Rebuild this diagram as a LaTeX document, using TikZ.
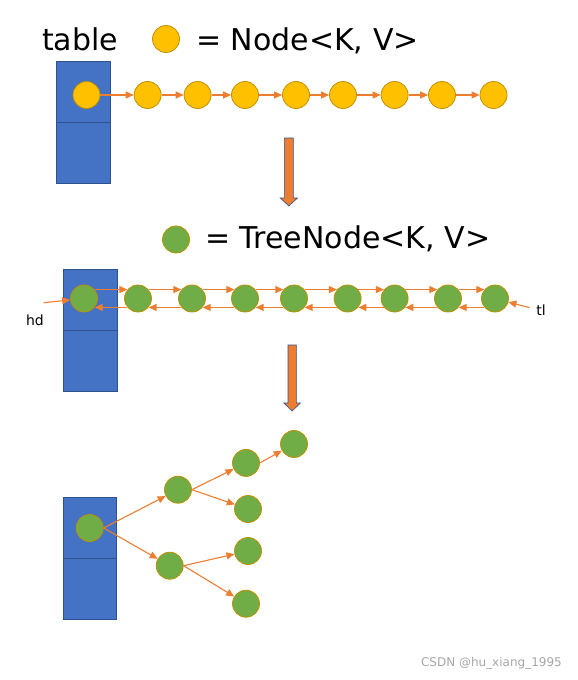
\documentclass[tikz,border=0pt]{standalone}
\usepackage{fontspec}
\setmainfont{DejaVu Sans}
\usetikzlibrary{arrows.meta}
\definecolor{boxblue}{HTML}{4472C4}
\definecolor{boxedge}{HTML}{2F528F}
\definecolor{nodeyellow}{HTML}{FFC000}
\definecolor{nodegreen}{HTML}{70AD47}
\definecolor{nodeedge}{HTML}{BF9000}
\definecolor{linkorange}{HTML}{ED7D31}

\begin{document}
\begin{tikzpicture}[x=1pt,y=-1pt,
		cell/.style={draw=boxedge,fill=boxblue,line width=0.8pt},
		nd/.style={circle,draw=nodeedge,line width=0.8pt,minimum size=27pt,inner sep=0pt},
		hm/.style={nd,fill=nodeyellow},
		tn/.style={nd,fill=nodegreen},
		link/.style={draw=linkorange,line width=1.1pt,-{Triangle[length=8pt,width=7pt]}},
		bigarrow/.style={fill=linkorange,draw=boxedge,line width=0.6pt},
		legend/.style={font=\fontsize{30}{35}\selectfont,inner sep=0pt,anchor=base west},
		small/.style={font=\fontsize{14}{16}\selectfont,inner sep=0pt}]
	\useasboundingbox (0,0) rectangle (578,680);
	% legend + linked list
	\node[legend] (tbl) at (42,50) {table};
	\node[hm] (key1) at (166,39) {};
	\node[legend] (txt1) at (196,50) {= Node<K, V>};
	\draw[cell] (56.7,61) rectangle (110,122);
	\draw[cell] (56.7,122) rectangle (110,183.3);
	\foreach \x [count=\i] in {86.5,147.6,197.6,245,296,343,394.6,442,493.5}
		\node[hm] (y\i) at (\x,95) {};
	\foreach \i [remember=\i as \p (initially 1)] in {2,...,9}
		\draw[link] (y\p) -- (y\i);
	\draw[bigarrow] (284.4,138) -- (293.3,138) -- (293.3,198) -- (297.5,198)
		-- (288.85,206) -- (280.2,198) -- (284.4,198) -- cycle;
	% treeified double list
	\node[tn] (key2) at (176,239.5) {};
	\node[legend] (txt2) at (205,248) {= TreeNode<K, V>};
	\draw[cell] (63.7,269) rectangle (117,330);
	\draw[cell] (63.7,330) rectangle (117,391.7);
	\foreach \x [count=\i] in {84,138,192,245,294,347.6,394.6,448,495}
		\node[tn] (g\i) at (\x,298.5) {};
	\foreach \i [remember=\i as \p (initially 1)] in {2,...,9} {
		\draw[link] (g\p.40) -- (g\i.140);
		\draw[link] (g\i.220) -- (g\p.-40);
	}
	\node[small] (hd) at (35,320) {hd};
	\coordinate (hdtail) at (43.7,302.7);
	\draw[link] (hdtail) -- (g1);
	\node[small] (tl) at (541,310) {tl};
	\coordinate (tltail) at (529.6,307.7);
	\draw[link] (tltail) -- (g9);
	\draw[bigarrow] (288,345) -- (296.3,345) -- (296.3,403) -- (300.5,403)
		-- (292.15,411) -- (283.8,403) -- (288,403) -- cycle;
	% red-black tree
	\draw[cell] (63.3,497) rectangle (116.7,558);
	\draw[cell] (63.3,558) rectangle (116.7,619);
	\node[tn] (r) at (89.7,528) {};
	\node[tn] (a) at (178,489.7) {};
	\node[tn] (b) at (169.7,565.7) {};
	\node[tn] (a1) at (246,462.9) {};
	\node[tn] (a2) at (248,509) {};
	\node[tn] (b1) at (248,551) {};
	\node[tn] (b2) at (246,603.7) {};
	\node[tn] (c) at (294,444) {};
	\draw[link] (r.east) -- (a);
	\draw[link] (r.east) -- (b);
	\draw[link] (a.east) -- (a1);
	\draw[link] (a.east) -- (a2);
	\draw[link] (b.east) -- (b1);
	\draw[link] (b.east) -- (b2);
	\draw[link] (a1.east) -- (c);
	\node[font=\fontsize{12}{14}\selectfont,text=gray!70,anchor=east,inner sep=0pt] (wm) at (562,663) {CSDN @hu\_xiang\_1995};
\end{tikzpicture}
\end{document}
